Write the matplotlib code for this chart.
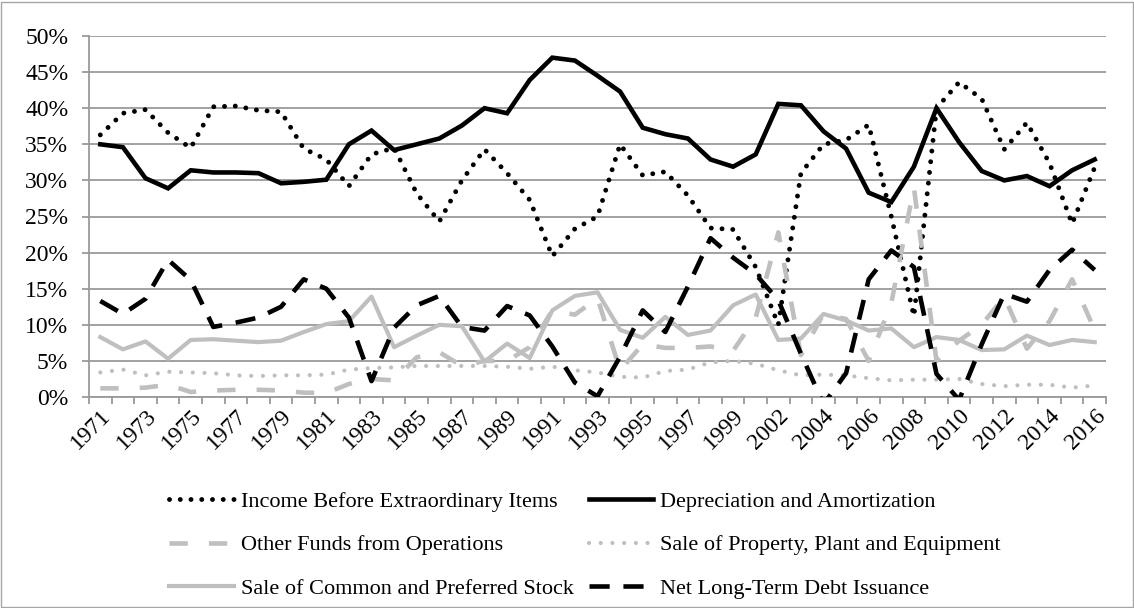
import matplotlib
matplotlib.use("Agg")
import matplotlib.pyplot as plt
from matplotlib.patches import Rectangle
from matplotlib.ticker import FixedLocator, FuncFormatter

plt.rcParams['font.family'] = ['Liberation Serif', 'DejaVu Serif']

years = list(range(1971, 2000)) + list(range(2001, 2017))

income = [36.3, 39.3, 39.8, 36.6, 34.5, 40.2, 40.3, 39.7, 39.5, 34.4,
          32.9, 29.2, 33.6, 34.5, 28.2, 24.3, 30.0, 34.3, 31.0, 27.3,
          19.5, 23.3, 25.0, 35.0, 30.7, 31.2, 27.9, 23.4, 23.2, 18.0,
          10.0, 31.0, 35.0, 35.6, 37.7, 25.0, 11.2, 40.0, 43.6, 41.3,
          34.3, 38.0, 32.4, 24.0, 31.8]
depreciation = [35.0, 34.6, 30.3, 28.9, 31.4, 31.1, 31.1, 31.0, 29.6, 29.8,
                30.1, 35.0, 36.9, 34.2, 35.0, 35.8, 37.6, 40.0, 39.3, 43.9,
                47.0, 46.6, 44.5, 42.3, 37.3, 36.4, 35.8, 32.9, 31.9, 33.6,
                40.6, 40.4, 36.8, 34.4, 28.3, 27.0, 31.9, 40.0, 35.3, 31.3,
                30.0, 30.6, 29.2, 31.4, 32.9]
other_funds = [1.2, 1.2, 1.3, 1.7, 0.7, 0.9, 1.0, 1.0, 0.9, 0.6,
               0.55, 1.8, 2.5, 2.3, 5.5, 6.2, 4.3, 5.0, 5.0, 6.9,
               12.0, 11.4, 13.7, 3.7, 7.3, 6.8, 6.8, 7.0, 6.4, 11.0,
               22.8, 5.8, 11.5, 10.8, 5.0, 13.0, 29.0, 5.0, 7.8, 10.0,
               13.9, 6.7, 10.5, 16.3, 9.3]
sale_ppe = [3.4, 3.8, 3.0, 3.5, 3.4, 3.3, 3.0, 2.9, 3.0, 3.0,
            3.1, 3.8, 4.0, 4.1, 4.3, 4.3, 4.3, 4.3, 4.2, 3.9,
            4.2, 3.7, 3.4, 2.8, 2.7, 3.6, 3.8, 4.8, 5.0, 4.6,
            3.7, 3.0, 3.1, 3.0, 2.6, 2.3, 2.4, 2.4, 2.5, 1.8,
            1.5, 1.7, 1.7, 1.3, 1.6]
sale_stock = [8.3, 6.6, 7.7, 5.3, 7.9, 8.0, 7.8, 7.6, 7.8, 9.0,
              10.1, 10.5, 13.9, 6.9, 8.5, 10.0, 9.8, 4.9, 7.4, 5.4,
              12.0, 14.0, 14.5, 9.3, 8.2, 11.1, 8.6, 9.2, 12.7, 14.2,
              7.9, 8.1, 11.5, 10.6, 9.2, 9.5, 6.9, 8.3, 7.9, 6.5,
              6.6, 8.5, 7.2, 7.9, 7.6]
net_debt = [13.3, 11.5, 13.6, 19.0, 16.2, 9.7, 10.3, 11.0, 12.5, 16.3,
            15.0, 11.0, 2.2, 9.6, 12.7, 14.0, 9.7, 9.2, 12.6, 11.3,
            7.0, 2.0, 0.1, 5.6, 12.0, 9.0, 15.3, 22.0, 19.3, 17.0,
            13.4, 6.0, -1.0, 3.3, 16.3, 20.3, 18.0, 3.2, -0.4, 7.3,
            14.3, 13.2, 17.6, 20.4, 17.6]

labels = ["Income Before Extraordinary Items", "Depreciation and Amortization",
          "Other Funds from Operations", "Sale of Property, Plant and Equipment",
          "Sale of Common and Preferred Stock", "Net Long-Term Debt Issuance"]

y_ticks = [0, 5, 10, 15, 20, 25, 30, 35, 40, 45, 50]

W, H = 1134, 608
fig = plt.figure(figsize=(W / 100, H / 100), dpi=100)
ax = fig.add_axes([89 / W, 1 - 397 / H, (1106 - 89) / W, (397 - 36) / H])

x = list(range(len(years)))
gray = '#BFBFBF'

h_inc, = ax.plot(x, income, color='black', lw=3.5, linestyle=(0, (0.01, 2.2)),
                 dash_capstyle='round', label=labels[0], zorder=3)
h_dep, = ax.plot(x, depreciation, color='black', lw=3.3, solid_joinstyle='miter',
                 label=labels[1], zorder=4)
h_oth, = ax.plot(x, other_funds, color=gray, lw=3.3, linestyle=(0, (4.0, 4.6)),
                 dash_capstyle='butt', label=labels[2], zorder=5)
h_ppe, = ax.plot(x, sale_ppe, color=gray, lw=3.0, linestyle=(0, (0.01, 2.8)),
                 dash_capstyle='round', label=labels[3], zorder=6)
h_stk, = ax.plot(x, sale_stock, color=gray, lw=3.0, label=labels[4], zorder=7)
h_net, = ax.plot(x, net_debt, color='black', lw=3.3, linestyle=(0, (4.4, 3.0)),
                 dash_capstyle='butt', label=labels[5], zorder=8)

ax.set_xlim(-0.5, len(years) - 0.5)
ax.set_ylim(0, 50)

grid_c = '#9A9A9A'
ax.yaxis.set_major_locator(FixedLocator(y_ticks))
ax.yaxis.set_major_formatter(FuncFormatter(lambda v, p: f"{int(round(v))}%"))
ax.grid(axis='y', color=grid_c, lw=1.3, zorder=1)
ax.set_axisbelow(True)

ax.xaxis.set_major_locator(FixedLocator(x[::2]))
ax.set_xticklabels([str(years[i]) for i in x[::2]])
ax.xaxis.set_minor_locator(FixedLocator([i - 0.5 for i in range(len(years) + 1)]))
ax.tick_params(axis='x', which='major', length=0, pad=6, labelsize=17)
ax.tick_params(axis='x', which='minor', length=5, width=1.3, color=grid_c, direction='out')
ax.tick_params(axis='y', which='major', length=5, width=1.3, color=grid_c, pad=10, labelsize=17)
for lab in ax.get_xticklabels():
    lab.set_rotation(45)
    lab.set_ha('right')
    lab.set_va('top')
    lab.set_rotation_mode('anchor')

for s in ['top', 'right']:
    ax.spines[s].set_visible(False)
for s in ['left', 'bottom']:
    ax.spines[s].set_color(grid_c)
    ax.spines[s].set_linewidth(1.3)

handles = [h_inc, h_oth, h_stk, h_dep, h_ppe, h_net]
fig.legend(handles=handles, labels=[h.get_label() for h in handles], ncol=2,
           loc='center', bbox_to_anchor=(585 / W, 1 - 545 / H), frameon=False,
           fontsize=16, handlelength=2.9, handletextpad=0.32, columnspacing=0.68,
           labelspacing=1.03, borderpad=0)

fig.patches.append(Rectangle((1 / W, 1 / H), 1 - 2.5 / W, 1 - 2.5 / H,
                             transform=fig.transFigure, fill=False,
                             edgecolor='#A6A6A6', lw=1.0))

fig.savefig('out.png', dpi=100)
